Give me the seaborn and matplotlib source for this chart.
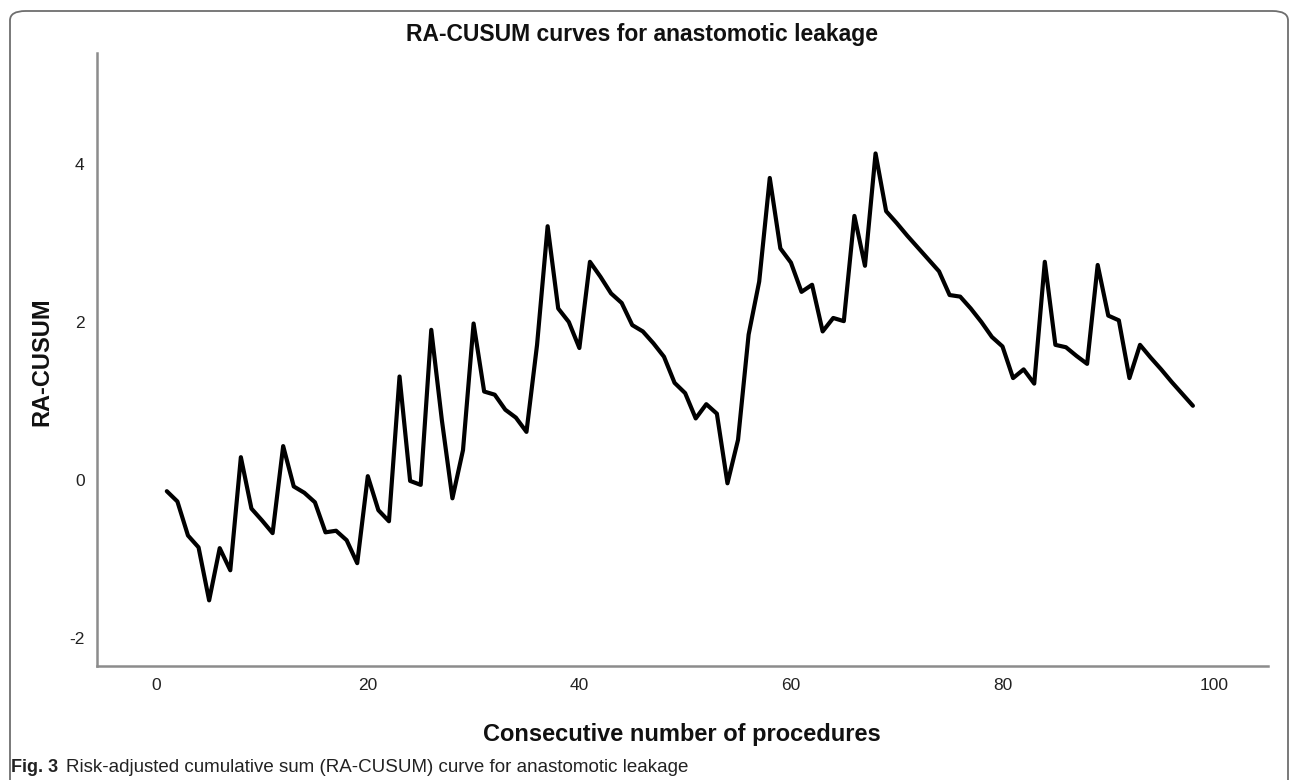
import matplotlib
matplotlib.use("Agg")
import matplotlib.pyplot as plt
from matplotlib.patches import FancyBboxPatch
import seaborn as sns
import pandas as pd

procedures = list(range(1, 99))
ra_cusum = [
    -0.14, -0.27, -0.70, -0.85, -1.52, -0.86, -1.14, 0.29, -0.36, -0.51,
    -0.67, 0.43, -0.08, -0.16, -0.28, -0.66, -0.64, -0.76, -1.05, 0.05,
    -0.38, -0.52, 1.31, -0.01, -0.06, 1.90, 0.76, -0.23, 0.38, 1.98,
    1.12, 1.08, 0.89, 0.79, 0.61, 1.71, 3.21, 2.17, 2.00, 1.67,
    2.76, 2.57, 2.36, 2.24, 1.96, 1.88, 1.73, 1.56, 1.23, 1.10,
    0.78, 0.96, 0.84, -0.04, 0.51, 1.84, 2.51, 3.82, 2.93, 2.75,
    2.38, 2.47, 1.88, 2.05, 2.01, 3.34, 2.71, 4.13, 3.40, 3.25,
    3.09, 2.94, 2.79, 2.64, 2.34, 2.32, 2.17, 2.00, 1.81, 1.69,
    1.29, 1.40, 1.22, 2.76, 1.71, 1.68, 1.57, 1.47, 2.72, 2.08,
    2.02, 1.29, 1.71, 1.55, 1.40, 1.24, 1.09, 0.94,
]
x_ticks = [0, 20, 40, 60, 80, 100]
y_ticks = [-2, 0, 2, 4]
title = "RA-CUSUM curves for anastomotic leakage"
x_label = "Consecutive number of procedures"
y_label = "RA-CUSUM"

df = pd.DataFrame({"proc": procedures, "cusum": ra_cusum})

sns.set_theme(style="white")
plt.rcParams["font.family"] = ["Liberation Sans", "DejaVu Sans"]
plt.rcParams["axes.unicode_minus"] = False

fig = plt.figure(figsize=(12.9, 7.8), dpi=100)
ax = fig.add_axes([97 / 1290, 1 - 666 / 780, (1268 - 97) / 1290, (666 - 53) / 780])

sns.lineplot(data=df, x="proc", y="cusum", ax=ax, color="black", linewidth=3.0)

ax.set_xlim(-5.6, 105.1)
ax.set_ylim(-2.35, 5.4)
ax.set_xticks(x_ticks)
ax.set_yticks(y_ticks)
ax.tick_params(axis="both", length=0, labelsize=12.5, colors="#222222")
ax.tick_params(axis="x", pad=9)
ax.tick_params(axis="y", pad=9)
for s in ["top", "right"]:
    ax.spines[s].set_visible(False)
for s in ["left", "bottom"]:
    ax.spines[s].set_color("#8c8c8c")
    ax.spines[s].set_linewidth(1.8)

ax.set_xlabel("")
ax.set_ylabel("")
fig.text(682 / 1290, 1 - 735 / 780, x_label, ha="center", va="center",
         fontsize=17, fontweight="bold", color="#111111")
fig.text(42 / 1290, 1 - 362 / 780, y_label, ha="center", va="center",
         rotation=90, fontsize=17, fontweight="bold", color="#111111")
fig.text(642 / 1290, 1 - 35 / 780, title, ha="center", va="center",
         fontsize=16.5, fontweight="bold", color="#111111")

cap_family = ["Liberation Sans Narrow", "Liberation Sans", "DejaVu Sans"]
fig.text(11 / 1290, 1 - 767 / 780, "Fig. 3", ha="left", va="center",
         fontsize=13, fontweight="bold", color="#222222", family=cap_family)
fig.text(66 / 1290, 1 - 767 / 780,
         "Risk-adjusted cumulative sum (RA-CUSUM) curve for anastomotic leakage",
         ha="left", va="center", fontsize=13.5, color="#222222", family=cap_family)

border = FancyBboxPatch((10 / 1290, -0.05), (1288 - 10) / 1290, (1 - 11 / 780) + 0.05,
                        boxstyle="round,pad=0,rounding_size=0.012",
                        transform=fig.transFigure, fill=False,
                        edgecolor="#6e6e6e", linewidth=1.3)
fig.patches.append(border)

fig.savefig("out.png", dpi=100)
